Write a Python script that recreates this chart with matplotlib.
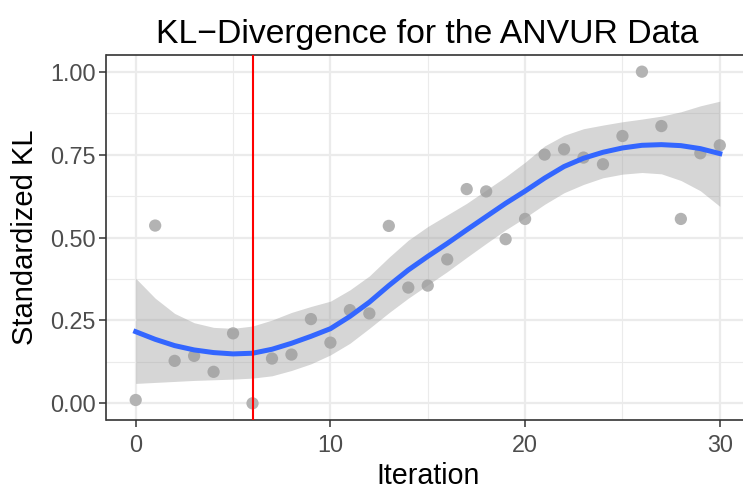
import matplotlib
matplotlib.use('Agg')
import matplotlib.pyplot as plt
from matplotlib.ticker import MultipleLocator

# Iterations and standardized KL values
iteration = list(range(0, 31))
kl_std = [0.010, 0.536, 0.128, 0.143, 0.095, 0.211, 0.000, 0.135, 0.147, 0.254,
          0.183, 0.281, 0.271, 0.535, 0.349, 0.355, 0.434, 0.646, 0.639, 0.495,
          0.556, 0.750, 0.766, 0.741, 0.721, 0.806, 1.000, 0.836, 0.556, 0.754,
          0.778]

# loess smooth and its 95% band, read at every iteration
smooth_fit = [0.216, 0.193, 0.174, 0.161, 0.153, 0.149, 0.151, 0.163, 0.181, 0.202,
              0.225, 0.262, 0.305, 0.355, 0.402, 0.443, 0.482, 0.523, 0.563, 0.603,
              0.640, 0.679, 0.714, 0.739, 0.757, 0.770, 0.778, 0.780, 0.777, 0.768,
              0.753]
smooth_upper = [0.377, 0.317, 0.271, 0.243, 0.229, 0.226, 0.233, 0.251, 0.274, 0.292,
                0.308, 0.342, 0.384, 0.440, 0.492, 0.533, 0.568, 0.603, 0.643, 0.683,
                0.727, 0.776, 0.808, 0.828, 0.839, 0.849, 0.857, 0.866, 0.879, 0.897,
                0.911]
smooth_lower = [0.060, 0.063, 0.066, 0.069, 0.071, 0.073, 0.076, 0.083, 0.099, 0.119,
                0.146, 0.181, 0.226, 0.273, 0.317, 0.357, 0.397, 0.440, 0.482, 0.523,
                0.560, 0.600, 0.635, 0.660, 0.680, 0.691, 0.696, 0.692, 0.672, 0.641,
                0.594]

cutoff = 6

plt.rcParams['font.family'] = ['Liberation Sans', 'DejaVu Sans']

W, H = 743, 487
fig = plt.figure(figsize=(W / 100, H / 100), dpi=100)
# panel runs past the right edge of the picture, as in the reference
ax = fig.add_axes([106.5 / W, (H - 419.9) / H, (749 - 106.5) / W, (419.9 - 55.1) / H])

ax.scatter(iteration, kl_std, s=78, color='#b3b3b3', edgecolors='none', zorder=3)
ax.fill_between(iteration, smooth_lower, smooth_upper, color='#999999', alpha=0.4,
                linewidth=0, zorder=4)
ax.plot(iteration, smooth_fit, color='#3366ff', linewidth=3.6, zorder=5)
ax.axvline(cutoff, color='#ff0000', linewidth=1.5, zorder=6)

ax.set_xlim(-1.5, 31.5)
ax.set_ylim(-0.05, 1.05)
ax.xaxis.set_major_locator(MultipleLocator(10))
ax.xaxis.set_minor_locator(MultipleLocator(5))
ax.yaxis.set_major_locator(MultipleLocator(0.25))
ax.yaxis.set_minor_locator(MultipleLocator(0.125))
ax.yaxis.set_major_formatter(lambda v, p: f'{v:.2f}')

ax.grid(which='major', color='#ebebeb', linewidth=1.6, zorder=0)
ax.grid(which='minor', color='#ebebeb', linewidth=0.8, zorder=0)
ax.set_axisbelow(True)
for s in ax.spines.values():
    s.set_color('#333333')
    s.set_linewidth(1.2)

ax.tick_params(which='major', length=5, width=1.1, color='#333333',
               labelsize=16.8, labelcolor='#4d4d4d')
ax.tick_params(axis='x', pad=5)
ax.tick_params(axis='y', pad=3)
ax.tick_params(which='minor', length=0)

ax.set_xlabel('Iteration', fontsize=20.6, color='black')
ax.xaxis.label.set_va('baseline')
ax.xaxis.set_label_coords(0.5, (419.9 - 483.5) / 364.8)
ax.set_ylabel('Standardized KL', fontsize=21, color='black')
ax.yaxis.label.set_va('baseline')
ax.yaxis.set_label_coords((33 - 106.5) / 642.5, 0.5)

fig.text(427.75 / W, 1 - 42.5 / H, 'KL\u2212Divergence for the ANVUR Data',
         fontsize=24.3, ha='center', va='baseline')

plt.savefig('out.png', dpi=100)
